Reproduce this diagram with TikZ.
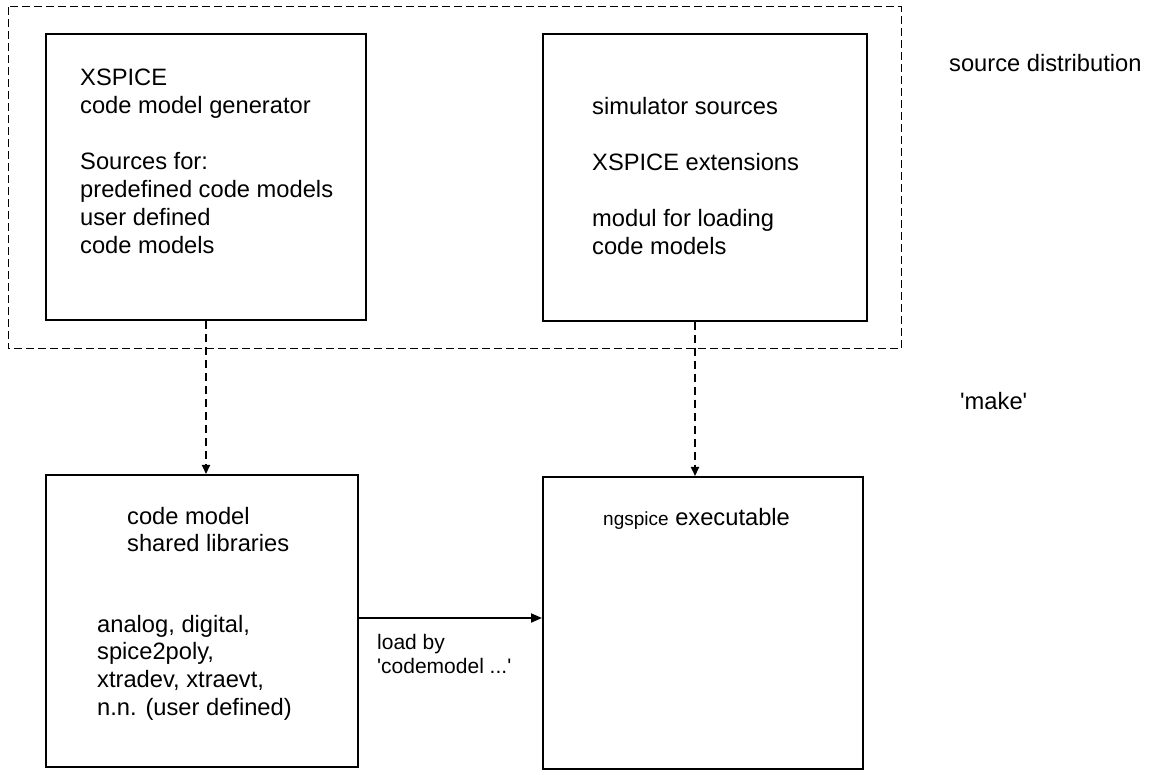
\documentclass[tikz,border=0pt]{standalone}
\usepackage{fontspec}
\setmainfont{Liberation Sans}
\usepackage{tikz}
\usetikzlibrary{calc,arrows.meta}

\newcommand{\bigtext}{\fontsize{23.7pt}{27.7pt}\selectfont}
\newcommand{\smalltext}{\fontsize{21pt}{24pt}\selectfont}
\newcommand{\boxlines}[1]{\begin{tabular}[t]{@{}l@{}}#1\end{tabular}}

\tikzset{
  block/.style={draw, line width=2pt, inner sep=0pt},
  txt/.style={anchor=base west, inner sep=0pt, font=\bigtext},
  makearrow/.style={line width=2pt, dash pattern=on 8pt off 5pt, -{Triangle[length=9pt,width=8pt]}},
  loadarrow/.style={line width=2pt, -{Triangle[length=11pt,width=9pt]}}
}

\begin{document}
\begin{tikzpicture}[x=1pt,y=-1pt]
                \useasboundingbox (0,0) rectangle (1149,775);
                \draw [line width=1pt, dash pattern=on 8pt off 4pt] (8,7) rectangle (901,349);

                \node [block, minimum width=320pt, minimum height=286pt] (gen) at (206,177) {};
                \node [block, minimum width=324pt, minimum height=287pt] (sim) at (705,177.5) {};
                \node [block, minimum width=312pt, minimum height=292pt] (libs) at (202,621) {};
                \node [block, minimum width=320pt, minimum height=292pt] (exe) at (703,623) {};

                \node [txt] (gentitle) at (80,86) {\boxlines{XSPICE\\code model generator}};
                \node [txt] (gensrc) at (80,170) {\boxlines{Sources for:\\predefined code models\\user defined\\code models}};

                \node [txt] (simsrc) at (592,115) {simulator sources};
                \node [txt] (simext) at (592,171) {XSPICE extensions};
                \node [txt] (simload) at (592,227) {\boxlines{modul for loading\\code models}};

                \node [txt] (libtitle) at (127,524) {\boxlines{code model\\shared libraries}};
                \node [txt] (liblist) at (97,632) {\boxlines{analog, digital,\\spice2poly,\\xtradev, xtraevt,\\n.n. (user defined)}};

                \node [txt] (exetitle) at (603,525) {{\fontsize{19pt}{22pt}\selectfont ngspice} executable};

                \node [txt] (dist) at (949,72) {source distribution};
                \node [txt] (make) at (960,410) {\textquotesingle make\textquotesingle};

                \draw [makearrow] (gen.south) -- (gen.south |- libs.north);
                \draw [makearrow] ($(sim.south)+(-10,0)$) -- ($(sim.south |- exe.north)+(-10,0)$);
                \draw [loadarrow] ([yshift=3pt]libs.east) -- ([yshift=3pt]libs.east -| exe.west);
                \node [txt, font=\smalltext] (loadby) at (377,649) {\boxlines{load by\\\textquotesingle codemodel ...\textquotesingle}};
            \end{tikzpicture}
\end{document}
